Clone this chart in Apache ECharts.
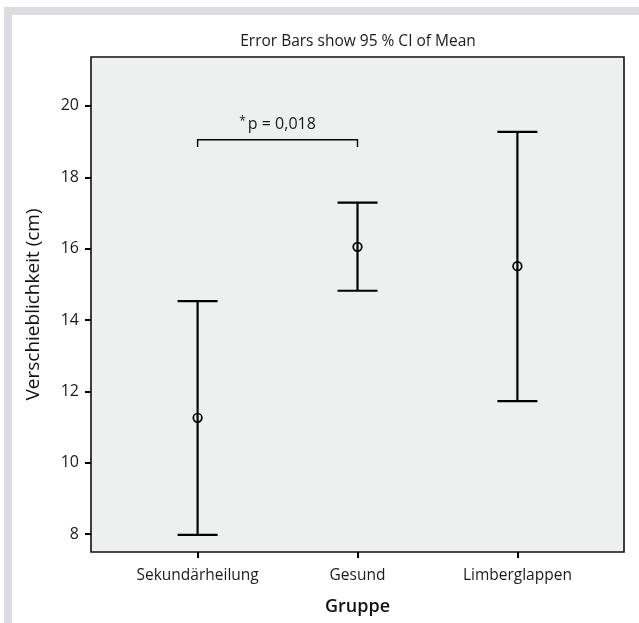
<!DOCTYPE html>
<html>
<head>
<meta charset="utf-8">
<script src="https://cdn.jsdelivr.net/npm/echarts@6/dist/echarts.min.js"></script>
<style>
  html, body { margin: 0; padding: 0; background: #fff; }
  #chart { width: 639px; height: 623px; }
</style>
</head>
<body>
<div id="chart"></div>
<script>
  // Gruppen und 95%-KI der Mittelwerte
  const categories = ['Sekundärheilung', 'Gesund', 'Limberglappen'];
  const means = [11.26, 16.05, 15.51];
  const ciLower = [7.98, 14.82, 11.73];
  const ciUpper = [14.53, 17.29, 19.27];
  const yTicks = [8, 10, 12, 14, 16, 18, 20];
  // Signifikanzklammer zwischen Gruppe 1 und 2
  const bracket = { from: 1, to: 2, y: 19.05, leg: 18.85, label: 'p = 0,018' };

  const FONT = '"Open Sans", sans-serif';

  const chartDom = document.getElementById('chart');
  const chartObj = echarts.init(chartDom);

  const errData = categories.map((c, i) => [i + 1, ciLower[i], ciUpper[i], means[i]]);

  function renderErr(params, api) {
    const x = api.value(0);
    const lo = api.coord([x, api.value(1)]);
    const hi = api.coord([x, api.value(2)]);
    const mid = api.coord([x, api.value(3)]);
    const half = 20;
    const st = { stroke: '#000', lineWidth: 2.2 };
    return {
      type: 'group',
      children: [
        { type: 'line', shape: { x1: hi[0], y1: hi[1], x2: lo[0], y2: lo[1] }, style: st },
        { type: 'line', shape: { x1: hi[0] - half, y1: hi[1], x2: hi[0] + half, y2: hi[1] }, style: st },
        { type: 'line', shape: { x1: lo[0] - half, y1: lo[1], x2: lo[0] + half, y2: lo[1] }, style: st },
        { type: 'circle', shape: { cx: mid[0], cy: mid[1], r: 4.3 }, style: { stroke: '#000', lineWidth: 1.7, fill: 'none' } }
      ]
    };
  }

  function renderBracket(params, api) {
    const a = api.coord([api.value(0), api.value(2)]);
    const b = api.coord([api.value(1), api.value(2)]);
    const legA = api.coord([api.value(0), api.value(3)]);
    const st = { stroke: '#000', lineWidth: 1.4, fill: 'none' };
    return {
      type: 'group',
      children: [
        { type: 'polyline', shape: { points: [[a[0], legA[1]], a, b, [b[0], legA[1]]] }, style: st },
        {
          type: 'text',
          x: (a[0] + b[0]) / 2,
          y: a[1] - 6,
          style: {
            text: '{s|*}' + bracket.label,
            align: 'center',
            verticalAlign: 'bottom',
            font: '16px ' + FONT,
            fill: '#1a1a1a',
            rich: { s: { font: '12px ' + FONT, verticalAlign: 'top', padding: [0, 2, 6, 0], fill: '#1a1a1a' } }
          }
        }
      ]
    };
  }

  chartObj.setOption({
    animation: false,
    textStyle: { fontFamily: FONT },
    title: {
      text: 'Error Bars show 95 % CI of Mean',
      left: 353,
      textAlign: 'center',
      top: 29,
      textStyle: { fontSize: 15.5, fontWeight: 'normal', color: '#1a1a1a', fontFamily: FONT }
    },
    graphic: [
      { type: 'rect', shape: { x: 4, y: 7, width: 635, height: 8 }, style: { fill: '#dcdde0' } },
      { type: 'rect', shape: { x: 4, y: 7, width: 8, height: 616 }, style: { fill: '#dcdde0' } }
    ],
    grid: {
      left: 91, right: 15, top: 57, bottom: 71,
      show: true,
      backgroundColor: '#eef0ef',
      borderColor: '#111',
      borderWidth: 1.6
    },
    xAxis: {
      type: 'value',
      min: 1 / 3,
      max: 11 / 3,
      name: 'Gruppe',
      nameLocation: 'middle',
      nameGap: 46,
      nameTextStyle: { fontSize: 18, fontWeight: 600, color: '#111', fontFamily: FONT },
      splitLine: { show: false },
      axisLine: { show: false },
      axisTick: { show: true, customValues: [1, 2, 3], length: 6, lineStyle: { color: '#000', width: 2 } },
      axisLabel: {
        customValues: [1, 2, 3],
        margin: 16,
        fontSize: 15.5,
        color: '#1a1a1a',
        formatter: v => categories[Math.round(v) - 1] || ''
      }
    },
    yAxis: {
      type: 'value',
      min: 7.5,
      max: 21.37,
      name: 'Verschieblichkeit (cm)',
      nameLocation: 'middle',
      nameGap: 48,
      nameTextStyle: { fontSize: 19, fontWeight: 500, color: '#111', fontFamily: FONT },
      splitLine: { show: false },
      axisLine: { show: false },
      axisTick: { show: true, customValues: yTicks, length: 6, lineStyle: { color: '#000', width: 2 } },
      axisLabel: { customValues: yTicks, margin: 12, fontSize: 16, color: '#1a1a1a' }
    },
    series: [
      {
        type: 'custom',
        renderItem: renderErr,
        encode: { x: 0, y: [1, 2, 3] },
        data: errData,
        z: 3
      },
      {
        type: 'custom',
        renderItem: renderBracket,
        encode: { x: [0, 1], y: [2, 3] },
        data: [[bracket.from, bracket.to, bracket.y, bracket.leg]],
        z: 3
      }
    ]
  });
</script>
</body>
</html>
